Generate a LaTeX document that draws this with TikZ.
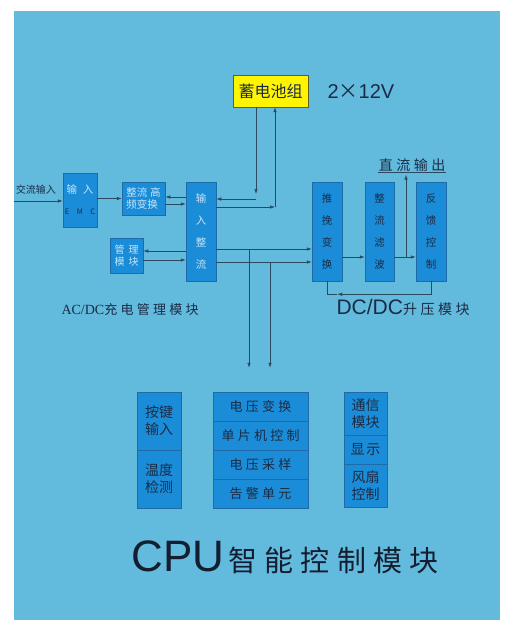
\documentclass[tikz,border=0pt]{standalone}
\usepackage{fontspec}
\setmainfont{Liberation Sans}
\newfontfamily\cjk{Noto Sans CJK SC}
\newfontfamily\cjkwide[LetterSpace=25]{Noto Sans CJK SC}
\newfontfamily\serifac{Liberation Serif}
\usetikzlibrary{arrows.meta,positioning,calc}
\definecolor{sky}{HTML}{62BADD}
\definecolor{block}{HTML}{1B8DD8}
\definecolor{blockedge}{HTML}{1F6BA8}
\definecolor{ink}{HTML}{1C2B45}
\definecolor{pale}{HTML}{C9E5F5}
\definecolor{wire}{HTML}{2C4A5F}
\definecolor{battery}{HTML}{FFF500}

\begin{document}
\begin{tikzpicture}[x=1pt,y=-1pt,
    blk/.style={draw=blockedge,fill=block,line width=0.5pt,inner sep=0pt,align=center},
    tall/.style={blk,minimum width=30pt,minimum height=99pt,font=\cjk\fontsize{10.5}{22}\selectfont},
    cell/.style={blk,minimum width=95pt,minimum height=29pt,text=ink,font=\cjkwide\fontsize{13}{13}\selectfont},
    sidecell/.style={blk,minimum width=44pt,text=ink,font=\cjk\fontsize{14}{17}\selectfont},
    link/.style={wire,line width=0.6pt,-{Latex[length=5pt,width=3.5pt]}},
    wirel/.style={wire,line width=0.6pt}]
  % background
  \useasboundingbox[fill=white] (0,0) rectangle (515,626);
  \fill[sky] (14,11) rectangle (500,620);
  % battery
  \node[draw=olive!60!black,fill=battery,minimum width=75pt,minimum height=32pt,inner sep=0pt,
        text=ink,font=\cjk\fontsize{16}{16}\selectfont] (batt) at (270.5,91) {蓄电池组};
  \node[anchor=west,text=ink,font=\fontsize{20}{20}\selectfont] (volt) at (324,92) {2{\cjk ×}12V};
  % AC/DC charging
  \coordinate (acin) at (14,201);
  \node[text=ink,font=\cjk\fontsize{10}{10}\selectfont] (aclbl) at (36,190) {交流输入};
  \node[blk,text=pale,minimum width=34pt,minimum height=54pt,font=\cjk\fontsize{10.5}{21}\selectfont] (emc) at (80,200)
    {输\hspace{6pt}入\\{\color{ink}\fontsize{7.5}{21}\selectfont E\quad M\quad C}};
  \node[blk,text=pale,align=left,minimum width=43pt,minimum height=33pt,font=\cjk\fontsize{10.5}{12.5}\selectfont] (hf) at (143.5,198.5)
    {整流\hspace{3pt}高\\频变换};
  \node[tall,text=pale] (rect) at (201,231.5) {输\\入\\整\\流};
  \node[blk,text=pale,minimum width=33pt,minimum height=35pt,font=\cjk\fontsize{10}{12.5}\selectfont] (mgmt) at (126.5,255.5)
    {管\hspace{4pt}理\\模\hspace{4pt}块};
  \node[anchor=west,text=ink] (aclabel) at (58,310)
    {{\serifac\fontsize{14}{14}\selectfont AC/DC}{\cjkwide\fontsize{13}{13}\selectfont 充电管理模块}};
  % DC/DC boost
  \node[tall,text=ink] (pp) at (327,231.5) {推\\挽\\变\\换};
  \node[tall,text=ink,minimum width=29pt] (filt) at (379.5,231.5) {整\\流\\滤\\波};
  \node[tall,text=ink] (fb) at (431,231.5) {反\\馈\\控\\制};
  \node[text=ink,inner sep=1pt,font=\cjkwide\fontsize{14}{14}\selectfont] (outlbl) at (412,165) {直流输出};
  \draw[wirel] (outlbl.south west) -- (outlbl.south east);
  \node[anchor=west,text=ink] (dclabel) at (333,307)
    {{\fontsize{21}{21}\selectfont DC/DC}{\cjkwide\fontsize{14}{14}\selectfont 升压模块}};
  % CPU
  \node[sidecell,minimum height=58pt] (key) at (159,421) {按键\\输入};
  \node[sidecell,minimum height=58pt] (temp) at (159,479) {温度\\检测};
  \foreach \n/\t [count=\i] in {vconv/电压变换,mcu/单片机控制,vsamp/电压采样,alarm/告警单元}
    \node[cell] (\n) at (260.5,377.5+29*\i) {\t};
  \node[sidecell,minimum width=43pt,minimum height=43pt] (comm) at (365.5,413.5) {通信\\模块};
  \node[sidecell,minimum width=43pt,minimum height=29pt] (disp) at (365.5,449.5) {显\hspace{2pt}示};
  \node[sidecell,minimum width=43pt,minimum height=43pt] (fan) at (365.5,485.5) {风扇\\控制};
  \node[anchor=west,text=ink!70!black] (title) at (128,557)
    {{\fontsize{44}{44}\selectfont CPU}\hspace{4pt}{\cjkwide\fontsize{29}{29}\selectfont 智能控制模块}};
  % connectors
  \draw[link] (acin) -- (acin -| emc.west);
  \draw[link] (emc.east |- hf) -- (hf.west);
  \draw[link] ([yshift=1.5pt]hf.east -| rect.west) -- ([yshift=1.5pt]hf.east);
  \draw[link] ([yshift=-5.5pt]hf.east) -- ([yshift=-5.5pt]hf.east -| rect.west);
  \draw[link] ([yshift=4.5pt]mgmt.east -| rect.west) -- ([yshift=4.5pt]mgmt.east);
  \draw[link] ([yshift=-4.5pt]mgmt.east) -- ([yshift=-4.5pt]mgmt.east -| rect.west);
  \coordinate (bdown) at (256,199);
  \coordinate (bup) at (275,207);
  \draw[link,shorten >=5pt] (bdown |- batt.south) -- (bdown);
  \draw[link] (bdown) -- (bdown -| rect.east);
  \draw[link] (bup -| rect.east) -- (bup);
  \draw[link] (bup) -- (bup |- batt.south);
  \draw[link] ([yshift=-17.5pt]rect.east) -- ([yshift=-17.5pt]rect.east -| pp.west);
  \draw[link] ([yshift=-30.5pt]rect.east) -- ([yshift=-30.5pt]rect.east -| pp.west);
  \coordinate (tapa) at (249,249);
  \coordinate (tapb) at (270,262);
  \draw[link,shorten >=24pt] (tapa) -- (tapa |- vconv.north);
  \draw[link,shorten >=24pt] (tapb) -- (tapb |- vconv.north);
  \draw[link] ([yshift=-25.5pt]pp.east) -- ([yshift=-25.5pt]pp.east -| filt.west);
  \draw[link] ([yshift=-25.5pt]filt.east) -- ([yshift=-25.5pt]filt.east -| fb.west);
  \coordinate (dcout) at (406,257);
  \draw[link,shorten >=2pt] (dcout) -- (dcout |- outlbl.south);
  \coordinate (fbdown) at ([yshift=-13pt]fb.south);
  \draw[link] (fb.south) -- (fbdown) -- ([xshift=-5pt]fbdown -| pp.east);
  \draw[wirel] ([xshift=-5pt]fbdown -| pp.east) -- (fbdown -| pp.south) -- (pp.south);
\end{tikzpicture}
\end{document}
